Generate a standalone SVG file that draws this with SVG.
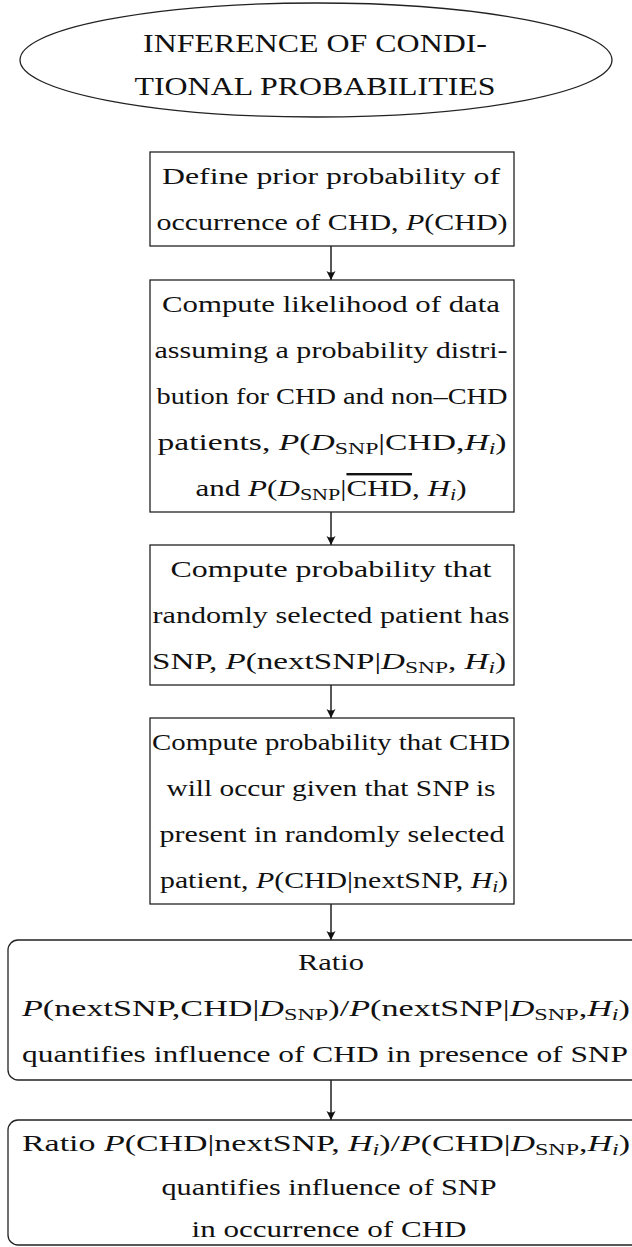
<svg xmlns="http://www.w3.org/2000/svg" width="632" height="1247" viewBox="0 0 632 1247">
<style>
text{font-family:"Liberation Serif","Times New Roman",serif;font-size:24px;fill:#111;text-anchor:middle}
.t{font-size:25px}
.n{fill:#fff;stroke:#222;stroke-width:1.3}
.c{stroke:#111;stroke-width:1.4;fill:none}
.i{font-style:italic}
.s{font-size:17px}
</style>
<defs>
<marker id="ah" markerUnits="userSpaceOnUse" markerWidth="12" markerHeight="12" viewBox="-10 -6 12 12" refX="0" refY="0" orient="auto">
<path d="M0,0 L-9,-4.5 Q-6,0 -9,4.5 Z" fill="#111"/>
</marker>
</defs>
<rect width="632" height="1247" fill="#fff"/>
<g id="connectors">
<line class="c" x1="331" y1="246" x2="331" y2="280" marker-end="url(#ah)"/>
<line class="c" x1="331" y1="512" x2="331" y2="545" marker-end="url(#ah)"/>
<line class="c" x1="331" y1="685" x2="331" y2="718" marker-end="url(#ah)"/>
<line class="c" x1="331" y1="904" x2="331" y2="940" marker-end="url(#ah)"/>
<line class="c" x1="331" y1="1080" x2="331" y2="1120" marker-end="url(#ah)"/>
</g>
<g id="start">
<ellipse class="n" cx="316" cy="60" rx="296" ry="57"/>
<text class="t" x="315" y="52" textLength="344" lengthAdjust="spacingAndGlyphs">INFERENCE OF CONDI-</text>
<text class="t" x="315" y="95" textLength="361" lengthAdjust="spacingAndGlyphs">TIONAL PROBABILITIES</text>
</g>
<g id="prior">
<rect class="n" x="150" y="152" width="364" height="94"/>
<text x="331" y="184" textLength="338" lengthAdjust="spacingAndGlyphs">Define prior probability of</text>
<text x="332" y="230" textLength="351" lengthAdjust="spacingAndGlyphs">occurrence of CHD, <tspan class="i">P</tspan>(CHD)</text>
</g>
<g id="likelihood">
<rect class="n" x="150" y="280" width="364" height="232"/>
<text x="331" y="312" textLength="338" lengthAdjust="spacingAndGlyphs">Compute likelihood of data</text>
<text x="331" y="358" textLength="353" lengthAdjust="spacingAndGlyphs">assuming a probability distri-</text>
<text x="332" y="404" textLength="351" lengthAdjust="spacingAndGlyphs">bution for CHD and non–CHD</text>
<text x="332" y="450" textLength="349" lengthAdjust="spacingAndGlyphs">patients, <tspan class="i">P</tspan>(<tspan class="i">D</tspan><tspan class="s" dy="4">SNP</tspan><tspan dy="-4">|CHD,</tspan><tspan class="i">H</tspan><tspan class="i s" dy="4">i</tspan><tspan dy="-4">)</tspan></text>
<text x="331" y="496" textLength="271" lengthAdjust="spacingAndGlyphs">and <tspan class="i">P</tspan>(<tspan class="i">D</tspan><tspan class="s" dy="4">SNP</tspan><tspan dy="-4">|</tspan><tspan text-decoration="overline">CHD</tspan>, <tspan class="i">H</tspan><tspan class="i s" dy="4">i</tspan><tspan dy="-4">)</tspan></text>
</g>
<g id="nextsnp">
<rect class="n" x="150" y="545" width="364" height="140"/>
<text x="331" y="577" textLength="321" lengthAdjust="spacingAndGlyphs">Compute probability that</text>
<text x="331" y="623" textLength="357" lengthAdjust="spacingAndGlyphs">randomly selected patient has</text>
<text x="329" y="669" textLength="354" lengthAdjust="spacingAndGlyphs">SNP, <tspan class="i">P</tspan>(nextSNP|<tspan class="i">D</tspan><tspan class="s" dy="4">SNP</tspan><tspan dy="-4">, </tspan><tspan class="i">H</tspan><tspan class="i s" dy="4">i</tspan><tspan dy="-4">)</tspan></text>
</g>
<g id="chdgiven">
<rect class="n" x="150" y="718" width="364" height="186"/>
<text x="331" y="750" textLength="358" lengthAdjust="spacingAndGlyphs">Compute probability that CHD</text>
<text x="331" y="796" textLength="329" lengthAdjust="spacingAndGlyphs">will occur given that SNP is</text>
<text x="332" y="842" textLength="345" lengthAdjust="spacingAndGlyphs">present in randomly selected</text>
<text x="334" y="888" textLength="348" lengthAdjust="spacingAndGlyphs">patient, <tspan class="i">P</tspan>(CHD|nextSNP, <tspan class="i">H</tspan><tspan class="i s" dy="4">i</tspan><tspan dy="-4">)</tspan></text>
</g>
<g id="ratio1">
<rect class="n" x="8" y="940" width="648" height="140" rx="10"/>
<text x="331" y="970" textLength="66" lengthAdjust="spacingAndGlyphs">Ratio</text>
<text x="326" y="1016" textLength="608" lengthAdjust="spacingAndGlyphs"><tspan class="i">P</tspan>(nextSNP,CHD|<tspan class="i">D</tspan><tspan class="s" dy="4">SNP</tspan><tspan dy="-4">)/</tspan><tspan class="i">P</tspan>(nextSNP|<tspan class="i">D</tspan><tspan class="s" dy="4">SNP</tspan><tspan dy="-4">,</tspan><tspan class="i">H</tspan><tspan class="i s" dy="4">i</tspan><tspan dy="-4">)</tspan></text>
<text x="325" y="1062" textLength="606" lengthAdjust="spacingAndGlyphs">quantifies influence of CHD in presence of SNP</text>
</g>
<g id="ratio2">
<rect class="n" x="8" y="1120" width="648" height="125" rx="10"/>
<text x="326" y="1151" textLength="608" lengthAdjust="spacingAndGlyphs">Ratio <tspan class="i">P</tspan>(CHD|nextSNP, <tspan class="i">H</tspan><tspan class="i s" dy="4">i</tspan><tspan dy="-4">)/</tspan><tspan class="i">P</tspan>(CHD|<tspan class="i">D</tspan><tspan class="s" dy="4">SNP</tspan><tspan dy="-4">,</tspan><tspan class="i">H</tspan><tspan class="i s" dy="4">i</tspan><tspan dy="-4">)</tspan></text>
<text x="329" y="1195" textLength="335" lengthAdjust="spacingAndGlyphs">quantifies influence of SNP</text>
<text x="329" y="1237" textLength="275" lengthAdjust="spacingAndGlyphs">in occurrence of CHD</text>
</g>
</svg>
